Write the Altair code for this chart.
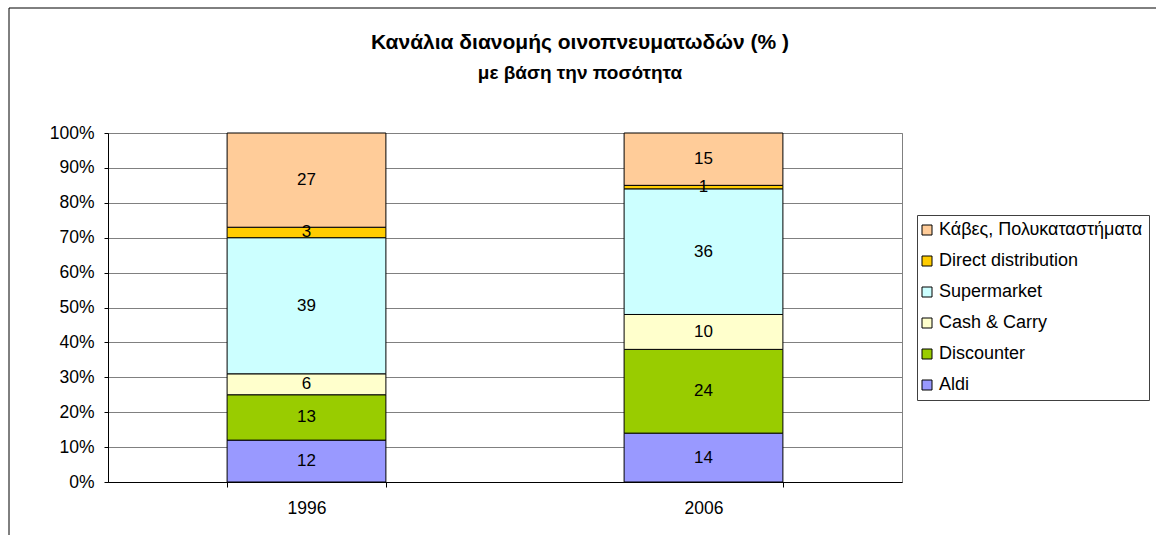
import altair as alt
import pandas as pd

years = ["1996", "2006"]
channels = ["Aldi", "Discounter", "Cash & Carry", "Supermarket",
            "Direct distribution", "Κάβες, Πολυκαταστήματα"]
values_1996 = [12, 13, 6, 39, 3, 27]
values_2006 = [14, 24, 10, 36, 1, 15]
colors = ["#9999FF", "#99CC00", "#FFFFCC", "#CCFFFF", "#FFCC00", "#FFCC99"]
y_ticks = list(range(0, 101, 10))
title_line1 = "Κανάλια διανομής οινοπνευματωδών (% )"
title_line2 = "με βάση την ποσότητα"

rows = []
for year, vals in zip(years, [values_1996, values_2006]):
    for i, (c, v) in enumerate(zip(channels, vals)):
        rows.append({"year": year, "channel": c, "value": v, "order": i})
df = pd.DataFrame(rows)

FONT = "Liberation Sans"
FS = 17.5

x_scale = alt.Scale(paddingInner=0.6, paddingOuter=0.3)
x_axis = alt.Axis(title=None, labelAngle=0, tickBand="extent",
                  domainColor="black", tickColor="black", tickSize=5,
                  labelFontSize=FS, labelColor="black", labelPadding=12,
                  labelFont=FONT, grid=False)
y_scale = alt.Scale(domain=[0, 100], nice=False)
y_axis = alt.Axis(title=None, values=y_ticks, labelExpr="datum.value + '%'",
                  labelOverlap=False,
                  domainColor="black", tickColor="black", tickSize=4,
                  gridColor="#808080", gridWidth=1,
                  labelFontSize=FS, labelColor="black", labelPadding=10,
                  labelFont=FONT)

base = alt.Chart(df)

bars = base.mark_bar(stroke="black", strokeWidth=1).encode(
    x=alt.X("year:N", scale=x_scale, axis=x_axis),
    y=alt.Y("value:Q", stack="zero", scale=y_scale, axis=y_axis),
    color=alt.Color("channel:N",
                    scale=alt.Scale(domain=channels[::-1], range=colors[::-1]),
                    legend=alt.Legend(title=None, orient="none", legendX=809, legendY=82,
                                      symbolType="square", symbolSize=100,
                                      symbolStrokeColor="black", symbolStrokeWidth=1,
                                      symbolOpacity=1, symbolOffset=-5,
                                      labelFontSize=18, labelFont=FONT, labelColor="black",
                                      labelLimit=400, labelOffset=3,
                                      rowPadding=13, padding=6,
                                      strokeColor="#404040", fillColor="white")),
    order=alt.Order("order:Q"),
)

labels = base.transform_stack(
    stack="value", groupby=["year"], as_=["y0", "y1"],
    sort=[alt.SortField("order", order="ascending")]
).transform_calculate(
    mid="(datum.y0 + datum.y1) / 2"
).mark_text(fontSize=17, font=FONT, color="black", baseline="middle").encode(
    x=alt.X("year:N", scale=x_scale, axis=x_axis),
    y=alt.Y("mid:Q", scale=y_scale, axis=y_axis),
    text=alt.Text("value:Q"),
)

frame_df = pd.DataFrame({"k": [0]})
frame_left = alt.Chart(frame_df).mark_rule(color="black", strokeWidth=1).encode(
    x=alt.value(-99), y=alt.value(-125), y2=alt.value(420))
frame_top = alt.Chart(frame_df).mark_rule(color="black", strokeWidth=1).encode(
    x=alt.value(-99), x2=alt.value(1100), y=alt.value(-125))

chart = alt.layer(bars, labels, frame_left, frame_top).properties(
    width=794, height=349,
    autosize=alt.AutoSizeParams(type="none"),
    padding={"left": 108, "top": 133, "right": 254, "bottom": 53},
    title=alt.TitleParams(title_line1, subtitle=title_line2,
                          fontSize=21, fontWeight="bold", font=FONT, color="black",
                          subtitleFontSize=19, subtitleFontWeight="bold",
                          subtitleFont=FONT, subtitleColor="black", subtitlePadding=11,
                          anchor="middle", dx=75, offset=-75),
    background="white",
).configure_view(stroke="#808080")

chart.save("out.html", embed_options={"renderer": "svg", "actions": False})
